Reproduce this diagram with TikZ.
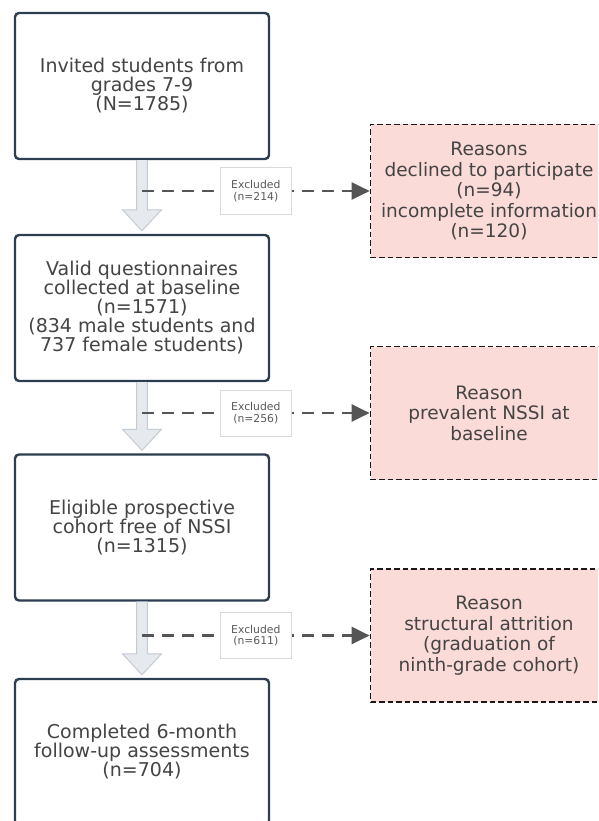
\documentclass[tikz,border=0pt]{standalone}
\usepackage{fontspec}
\setmainfont{DejaVu Sans}
\usetikzlibrary{arrows.meta, calc}
\definecolor{boxline}{HTML}{2C3E50}
\definecolor{txtgray}{HTML}{444444}
\definecolor{reasonfill}{HTML}{FADBD8}
\definecolor{flowfill}{HTML}{E6EAEE}
\definecolor{flowline}{HTML}{C3CBD3}
\definecolor{exclline}{HTML}{555555}

\newcommand{\flowarrow}[2]{%
  \filldraw[flowarrow] let \p1=(#1.south), \p2=(#2.north) in
    (\x1+5.3pt,\y1) -- (\x1+5.3pt,\y2+24pt) -- (\x1+19.5pt,\y2+24pt) -- (\x1,\y2+3pt)
    -- (\x1-19.5pt,\y2+24pt) -- (\x1-5.3pt,\y2+24pt) -- (\x1-5.3pt,\y1);}

\begin{document}
\begin{tikzpicture}[x=1pt, y=1pt,
  every node/.style={text=txtgray},
  mainbox/.style={draw=boxline, line width=2.4pt, rounded corners=4pt, fill=white, align=center,
    minimum width=254pt, minimum height=146pt, font=\fontsize{19}{19}\selectfont},
  reasonbox/.style={draw=black!90, line width=1.7pt, dash pattern=on 5.5pt off 3pt, fill=reasonfill,
    align=center, minimum width=237pt, minimum height=133pt, font=\fontsize{18.5}{20.5}\selectfont},
  flowarrow/.style={fill=flowfill, draw=flowline, line width=1pt, line join=miter},
  exclarrow/.style={draw=exclline, line width=2.6pt, dash pattern=on 12pt off 8pt,
    -{Triangle[length=18pt, width=17pt]}},
  exclnote/.style={draw=black!15, line width=1pt, fill=white, solid, align=center, inner sep=0pt,
    minimum width=71pt, minimum height=46pt, text=black!65, font=\fontsize{10.8}{11.5}\selectfont}]
  \clip (0,0) rectangle (598,-821);
  \node[mainbox] (invited) at (142,-86) {Invited students from\\grades 7-9\\(N=1785)};
  \node[mainbox] (valid) at (142,-308) {Valid questionnaires\\collected at baseline\\(n=1571)\\(834 male students and\\737 female students)};
  \node[mainbox] (eligible) at (142,-527.5) {Eligible prospective\\cohort free of NSSI\\(n=1315)};
  \node[mainbox] (completed) at (142,-752) {Completed 6-month\\follow-up assessments\\(n=704)};
  \node[reasonbox] (declined) at (489,-191) {Reasons\\declined to participate\\(n=94)\\incomplete information\\(n=120)};
  \node[reasonbox] (prevalent) at (489,-413) {Reason\\prevalent NSSI at\\baseline};
  \node[reasonbox] (attrition) at (489,-635.5) {Reason\\structural attrition\\(graduation of\\ninth-grade cohort)};
  \flowarrow{invited}{valid}
  \flowarrow{valid}{eligible}
  \flowarrow{eligible}{completed}
  \draw[exclarrow] (invited.south |- declined.west) -- (declined.west) node[exclnote, midway] {Excluded\\(n=214)};
  \draw[exclarrow] (valid.south |- prevalent.west) -- (prevalent.west) node[exclnote, midway] {Excluded\\(n=256)};
  \draw[exclarrow] (eligible.south |- attrition.west) -- (attrition.west) node[exclnote, midway] {Excluded\\(n=611)};
\end{tikzpicture}
\end{document}
